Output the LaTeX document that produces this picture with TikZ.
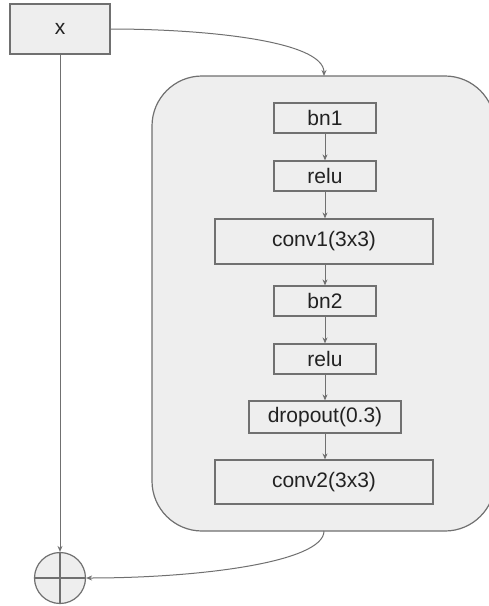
\documentclass[tikz,border=0pt]{standalone}
\usepackage{fontspec}
\setmainfont{Liberation Sans}
\usetikzlibrary{arrows.meta}
\definecolor{boxfill}{HTML}{EEEEEE}
\definecolor{linegray}{HTML}{707070}
\definecolor{textgray}{HTML}{222222}
\begin{document}
\begin{tikzpicture}[x=1pt,y=-1pt,
  every node/.style={font=\fontsize{21}{24}\selectfont, text=textgray},
  stepbox/.style={draw=linegray, line width=1.2pt, fill=boxfill, inner sep=0pt},
  conn/.style={draw=linegray, line width=1pt, -{Stealth[length=6pt,width=5pt]}}]
\useasboundingbox (0,0) rectangle (489,606);
\clip (0,0) rectangle (489,606);
\fill[white] (0,0) rectangle (489,606);
% block
\node[draw=linegray, line width=1.2pt, fill=boxfill, rounded corners=50pt,
      minimum width=343pt, minimum height=455pt, inner sep=0pt] (block) at (323.5,303.5) {};
\coordinate (blocktop) at (324,76);
\coordinate (blockbot) at (324,531);
% input
\node[stepbox, minimum width=100pt, minimum height=50pt] (x) at (60,29) {x};
% inner steps
\node[stepbox, minimum width=102pt, minimum height=30pt] (bn1) at (325,118) {bn1};
\node[stepbox, minimum width=102pt, minimum height=30pt] (relu1) at (325,176) {relu};
\node[stepbox, minimum width=218pt, minimum height=45pt] (conv1) at (324,241.5) {conv1(3x3)};
\node[stepbox, minimum width=102pt, minimum height=30pt] (bn2) at (325,301) {bn2};
\node[stepbox, minimum width=102pt, minimum height=30pt] (relu2) at (325,359) {relu};
\node[stepbox, minimum width=152pt, minimum height=32pt] (drop) at (325,417) {dropout(0.3)};
\node[stepbox, minimum width=218pt, minimum height=44pt] (conv2) at (324,482) {conv2(3x3)};
% sum
\node[draw=linegray, line width=1.2pt, fill=boxfill, circle, minimum size=51pt, inner sep=0pt] (sum) at (60,578) {};
\draw[linegray, line width=1.2pt] (sum.north) -- (sum.south) (sum.west) -- (sum.east);
% connectors
\draw[conn] (bn1.south) -- (bn1.south |- relu1.north);
\draw[conn] (relu1.south) -- (relu1.south |- conv1.north);
\draw[conn] (bn2.south |- conv1.south) -- (bn2.north);
\draw[conn] (bn2.south) -- (relu2.north);
\draw[conn] (relu2.south) -- (relu2.south |- drop.north);
\draw[conn] (drop.south) -- (drop.south |- conv2.north);
\draw[conn] (x.south) -- (sum.north);
\draw[conn] (x.east) .. controls (200,29) and (324,40) .. (blocktop);
\draw[conn] (blockbot) .. controls (324,562) and (200,578) .. (sum.east);
\end{tikzpicture}
\end{document}
